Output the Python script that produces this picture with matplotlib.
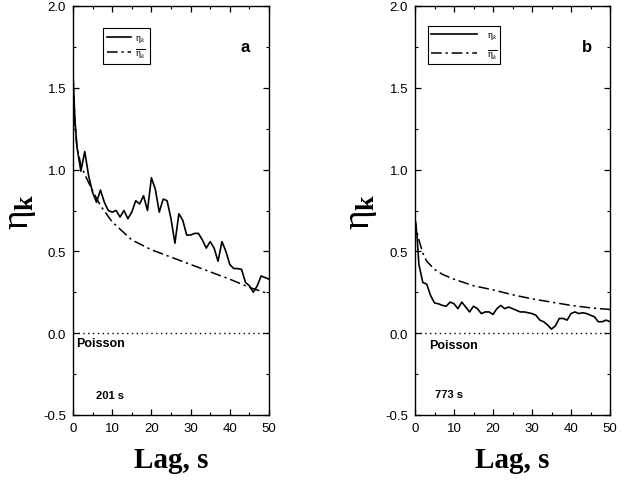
import matplotlib
matplotlib.use("Agg")
import matplotlib.pyplot as plt
from matplotlib.ticker import MultipleLocator, FormatStrFormatter

plt.rcParams['axes.unicode_minus'] = False
plt.rcParams['font.family'] = ['Liberation Sans', 'DejaVu Sans']
plt.rcParams['mathtext.fontset'] = 'custom'
plt.rcParams['mathtext.rm'] = 'Liberation Serif'
plt.rcParams['mathtext.it'] = 'Liberation Serif:italic'
plt.rcParams['mathtext.bf'] = 'Liberation Serif:bold'

# Panel a: observed eta_k (solid)
lag_a = [0, 0.5, 1, 2, 3, 4, 5, 6, 7, 8, 9, 10, 11, 12, 13, 14, 15, 16, 17, 18, 19, 20,
         21, 22, 23, 24, 25, 26, 27, 28, 29, 30, 31, 32, 33, 34, 35, 36, 37, 38, 39, 40,
         41, 42, 43, 44, 45, 46, 47, 48, 49, 50]
eta_a = [1.58, 1.30, 1.14, 0.99, 1.11, 0.96, 0.86, 0.80, 0.875, 0.80, 0.75, 0.74, 0.75,
         0.71, 0.75, 0.70, 0.74, 0.81, 0.79, 0.84, 0.75, 0.95, 0.88, 0.74, 0.82, 0.81,
         0.70, 0.55, 0.73, 0.69, 0.60, 0.60, 0.61, 0.61, 0.57, 0.52, 0.56, 0.52, 0.44,
         0.56, 0.50, 0.42, 0.395, 0.395, 0.39, 0.31, 0.29, 0.25, 0.29, 0.35, 0.34, 0.33]
# Panel a: mean eta_k (dash-dot)
lagm_a = [0, 0.5, 1, 2, 3, 5, 7, 10, 15, 20, 25, 30, 35, 40, 45, 50]
mean_a = [1.58, 1.28, 1.14, 1.03, 0.97, 0.87, 0.78, 0.68, 0.57, 0.51, 0.465, 0.42, 0.375,
          0.33, 0.28, 0.24]

# Panel b: observed eta_k (solid)
lag_b = [0, 0.5, 1, 2, 3, 4, 5, 6, 7, 8, 9, 10, 11, 12, 13, 14, 15, 16, 17, 18, 19, 20,
         21, 22, 23, 24, 25, 26, 27, 28, 29, 30, 31, 32, 33, 34, 35, 36, 37, 38, 39, 40,
         41, 42, 43, 44, 45, 46, 47, 48, 49, 50]
eta_b = [0.70, 0.60, 0.42, 0.31, 0.30, 0.23, 0.185, 0.18, 0.17, 0.165, 0.19, 0.18, 0.15,
         0.19, 0.16, 0.13, 0.165, 0.15, 0.12, 0.13, 0.13, 0.115, 0.15, 0.17, 0.15, 0.16,
         0.15, 0.14, 0.13, 0.13, 0.125, 0.12, 0.11, 0.08, 0.07, 0.05, 0.025, 0.045, 0.09,
         0.09, 0.08, 0.12, 0.13, 0.12, 0.125, 0.12, 0.11, 0.10, 0.07, 0.07, 0.08, 0.07]
# Panel b: mean eta_k (dash-dot)
lagm_b = [0, 0.5, 1, 2, 3, 5, 7, 10, 15, 20, 25, 30, 35, 40, 45, 50]
mean_b = [0.70, 0.62, 0.57, 0.49, 0.44, 0.39, 0.36, 0.33, 0.29, 0.265, 0.235, 0.21, 0.19,
          0.17, 0.155, 0.145]

panel_letters = ['a', 'b']
durations = ['201 s', '773 s']
xlabel = 'Lag, s'
ylabel = r'$\mathrm{\eta}_\mathbf{k}$'
legend_labels = [r'$\mathrm{\eta}_k$', r'$\overline{\mathrm{\eta}_k}$']

fig = plt.figure(figsize=(6.33, 4.81), dpi=100)
W, H = 633, 481
rects = [(73, 7, 269, 416), (415, 7, 610, 416)]
dd = (0, (7, 2.5, 1.5, 2.5))

data = [(lag_a, eta_a, lagm_a, mean_a), (lag_b, eta_b, lagm_b, mean_b)]
lbl_pos = [(5.9, -0.38), (5.1, -0.37)]
poi_pos = [(0.9, -0.06), (3.5, -0.07)]
ylab_x = [-0.18, -0.185]
for i, (l, t, r, b) in enumerate(rects):
    ax = fig.add_axes([l / W, 1 - b / H, (r - l) / W, (b - t) / H])
    x, y, xm, ym = data[i]
    h1, = ax.plot(x, y, color='black', lw=1.2, label=legend_labels[0])
    h2, = ax.plot(xm, ym, color='black', lw=1.1, linestyle=dd, label=legend_labels[1])
    ax.axhline(0, color='black', lw=1.0, linestyle=(0, (1, 2.5)))
    ax.set_xlim(0, 50)
    ax.set_ylim(-0.5, 2.0)
    ax.xaxis.set_major_locator(MultipleLocator(10))
    ax.xaxis.set_minor_locator(MultipleLocator(5))
    ax.yaxis.set_major_locator(MultipleLocator(0.5))
    ax.yaxis.set_minor_locator(MultipleLocator(0.25))
    ax.yaxis.set_major_formatter(FormatStrFormatter('%.1f'))
    ax.tick_params(which='both', direction='in', top=True, right=True, labelsize=9.5,
                   colors='black')
    ax.tick_params(which='major', length=4, width=0.9, pad=5)
    ax.tick_params(which='minor', length=2.5, width=0.8)
    for s in ax.spines.values():
        s.set_linewidth(1.0)
    ax.set_xlabel(xlabel, fontsize=21, family='Liberation Serif', fontweight='bold',
                  labelpad=9)
    ax.set_ylabel(ylabel, fontsize=27)
    ax.yaxis.set_label_coords(ylab_x[i], 0.5)
    ax.text(0.88, 0.9, panel_letters[i], transform=ax.transAxes, fontsize=12,
            fontweight='bold', ha='center', va='center')
    ax.text(poi_pos[i][0], poi_pos[i][1], 'Poisson', fontsize=9, fontweight='bold',
            ha='left', va='center')
    ax.text(lbl_pos[i][0], lbl_pos[i][1], durations[i], fontsize=8, fontweight='bold',
            ha='left', va='center')
    if i == 0:
        leg = ax.legend(handles=[h1, h2], loc='upper left', bbox_to_anchor=(0.13, 0.958),
                        fontsize=7, handlelength=2.4, handletextpad=0.5,
                        borderpad=0.4, labelspacing=0.2, fancybox=False,
                        framealpha=1, edgecolor='black')
    else:
        leg = ax.legend(handles=[h1, h2], loc='upper left', bbox_to_anchor=(0.04, 0.962),
                        fontsize=7, handlelength=4.8, handletextpad=1.0,
                        borderpad=0.3, labelspacing=0.6, fancybox=False,
                        framealpha=1, edgecolor='black')
    leg.get_frame().set_linewidth(0.8)

fig.savefig('out.png', dpi=100)
